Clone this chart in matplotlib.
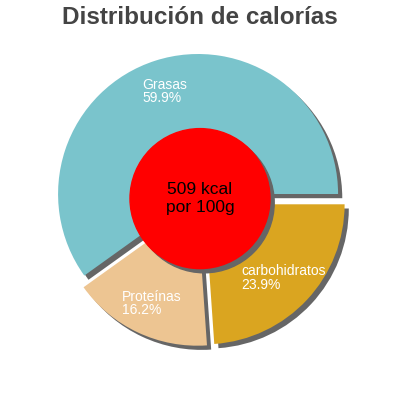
import matplotlib.pyplot as plt
from matplotlib.patches import Circle

# calorie split per 100 g
categories = ["Grasas", "Proteínas", "carbohidratos"]
percents = [59.9, 16.2, 23.9]
colors = ["#7ac4cc", "#edc592", "#daa520"]
kcal = 509

title = "Distribución de calorías"
center_text = "%d kcal\npor 100g" % kcal

plt.rcParams['font.family'] = ['Liberation Sans', 'DejaVu Sans']

fig = plt.figure(figsize=(4, 4), dpi=100)
ax = fig.add_axes([0, 0, 1, 1])
ax.set_aspect("equal")
ax.axis("off")

explode = [0.045] * len(percents)
shadow_off = (0.03, -0.03)

# shadow first, then the real wedges
ax.pie(percents, explode=explode, startangle=0, counterclock=True,
       colors=["#666666"] * len(percents), center=shadow_off,
       wedgeprops={"linewidth": 0})
labels = ["%s\n%.1f%%" % (c, p) for c, p in zip(categories, percents)]
wedges, texts = ax.pie(percents, explode=explode, startangle=0, counterclock=True,
                       colors=colors, labels=labels, labeldistance=0.77,
                       wedgeprops={"linewidth": 0},
                       textprops={"color": "white", "fontsize": 10})
for t in texts:
    t.set_ha("center")
    t.set_va("center")
    t.set_multialignment("left")
    t.set_linespacing(0.95)

ax.set_xlim(-200 / 140, 200 / 140)
ax.set_ylim(-200 / 140, 200 / 140)

ax.add_patch(Circle((shadow_off[0], 0.01 + shadow_off[1]), 0.5, color="#666666", zorder=5))
ax.add_patch(Circle((0, 0.01), 0.5, color="#ff0000", zorder=6))
ax.text(0, 0.01, center_text, ha="center", va="center", fontsize=12.5,
        family=["Liberation Sans Narrow", "Liberation Sans"], linespacing=1.2,
        color="black", zorder=7)

fig.text(0.5, 1 - 18 / 400, title, ha="center", va="center", fontsize=17.5,
         fontweight="bold", color="#444444")

fig.savefig("out.png", dpi=100)
plt.close(fig)
